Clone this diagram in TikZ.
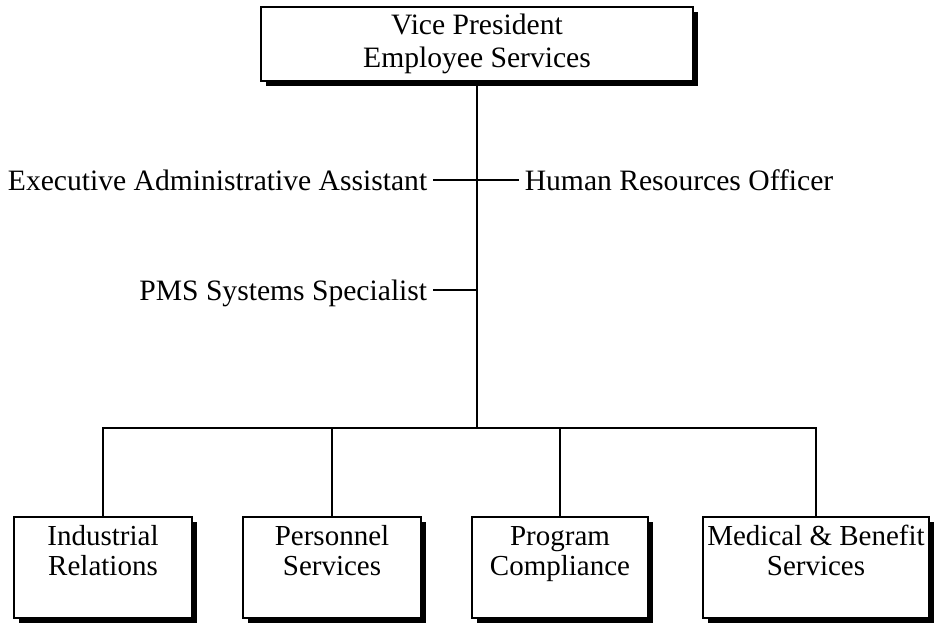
\documentclass[tikz,border=0pt]{standalone}
\usepackage{fontspec}
\setmainfont{Liberation Serif}
\usetikzlibrary{shadows}

\begin{document}
\begin{tikzpicture}[x=0.5pt, y=-0.5pt, line width=1pt,
  box/.style={draw, fill=white, rectangle, inner sep=0pt, align=center,
    drop shadow={shadow xshift=2.4pt, shadow yshift=-2.4pt, fill=black, opacity=1}},
  topbox/.style={box, minimum width=216pt, minimum height=37pt,
    font=\fontsize{14.8}{16.5}\selectfont},
  deptbox/.style={box, minimum height=50.5pt, text height=25pt, text depth=17.5pt,
    font=\fontsize{14.5}{15}\selectfont},
  staff/.style={inner sep=2.4pt, text height=10pt, text depth=0pt,
    font=\fontsize{14.8}{16.5}\selectfont}]
\useasboundingbox (0,0) rectangle (942,627);

\node[topbox] (vp) at (477,44) {Vice President\\Employee Services};
\coordinate (trunk) at (477,428);

\node[staff, anchor=east] (exec) at (433,180) {Executive Administrative Assistant};
\node[staff, anchor=west] (hro) at (519,180) {Human Resources Officer};
\node[staff, anchor=east] (pms) at (433,290) {PMS Systems Specialist};

\node[deptbox, minimum width=89pt] (ir) at (103,567.5) {Industrial\\Relations};
\node[deptbox, minimum width=89pt] (ps) at (332,567.5) {Personnel\\Services};
\node[deptbox, minimum width=88pt] (pc) at (560,567.5) {Program\\Compliance};
\node[deptbox, minimum width=113pt] (mb) at (816,567.5) {Medical \& Benefit\\Services};

% reporting lines
\draw (vp.south) -- (trunk);
\draw (exec.east) -- (hro.west);
\draw (pms.east) -- (pms.east -| trunk);
\draw (ir.north) |- (trunk) -| (mb.north);
\foreach \d in {ps,pc}
  \draw (\d.north) -- (\d.north |- trunk);
\end{tikzpicture}
\end{document}
